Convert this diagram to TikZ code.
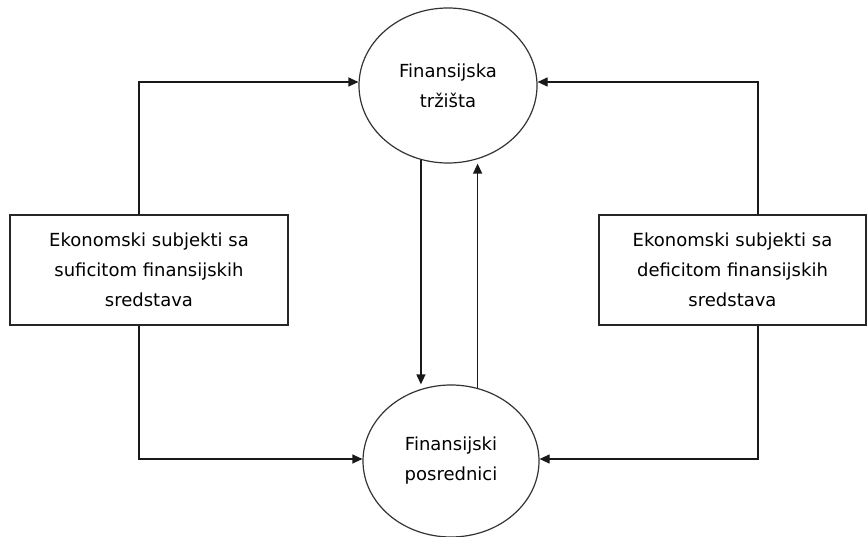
\documentclass[tikz,border=0pt]{standalone}
\usepackage{fontspec}
\setmainfont{DejaVu Sans}
\usetikzlibrary{shapes.geometric,arrows.meta}

\begin{document}
\begin{tikzpicture}[x=1pt, y=-1pt,
    agent/.style={draw=black!85, line width=1.2pt, rectangle, minimum height=110pt,
                  inner sep=0pt, text centered, align=center,
                  font=\fontsize{18}{30}\selectfont},
    market/.style={draw=black!80, line width=1.2pt, ellipse, inner sep=0pt,
                   text centered, align=center, font=\fontsize{18}{30}\selectfont},
    flow/.style={draw=black!90, line width=1.2pt, -{Triangle[length=10pt,width=9pt]}}
]
    \useasboundingbox (0,0) rectangle (867,537);

    \node[market, minimum width=178pt, minimum height=155pt] (trz) at (448,85.5) {Finansijska\\tržišta};
    \node[market, minimum width=176pt, minimum height=152pt] (pos) at (451,461) {Finansijski\\posrednici};

    \node[agent, minimum width=278pt] (sur) at (149,270) {Ekonomski subjekti sa\\suficitom finansijskih\\sredstava};
    \node[agent, minimum width=267pt] (def) at (732.5,270) {Ekonomski subjekti sa\\deficitom finansijskih\\sredstava};

    \draw[flow] ([xshift=-10pt]sur.north) |- ([yshift=3.5pt]trz.west);
    \draw[flow] ([xshift=-10pt]sur.south) |- ([yshift=2pt]pos.west);
    \draw[flow] ([xshift=25.5pt]def.north) |- ([yshift=3.5pt]trz.east);
    \draw[flow] ([xshift=25.5pt]def.south) |- ([yshift=2pt]pos.east);

    \draw[flow] (trz.250) -- (trz.250 |- pos.north);
    \draw[flow] (pos.70) -- (pos.70 |- trz.south);
\end{tikzpicture}
\end{document}
